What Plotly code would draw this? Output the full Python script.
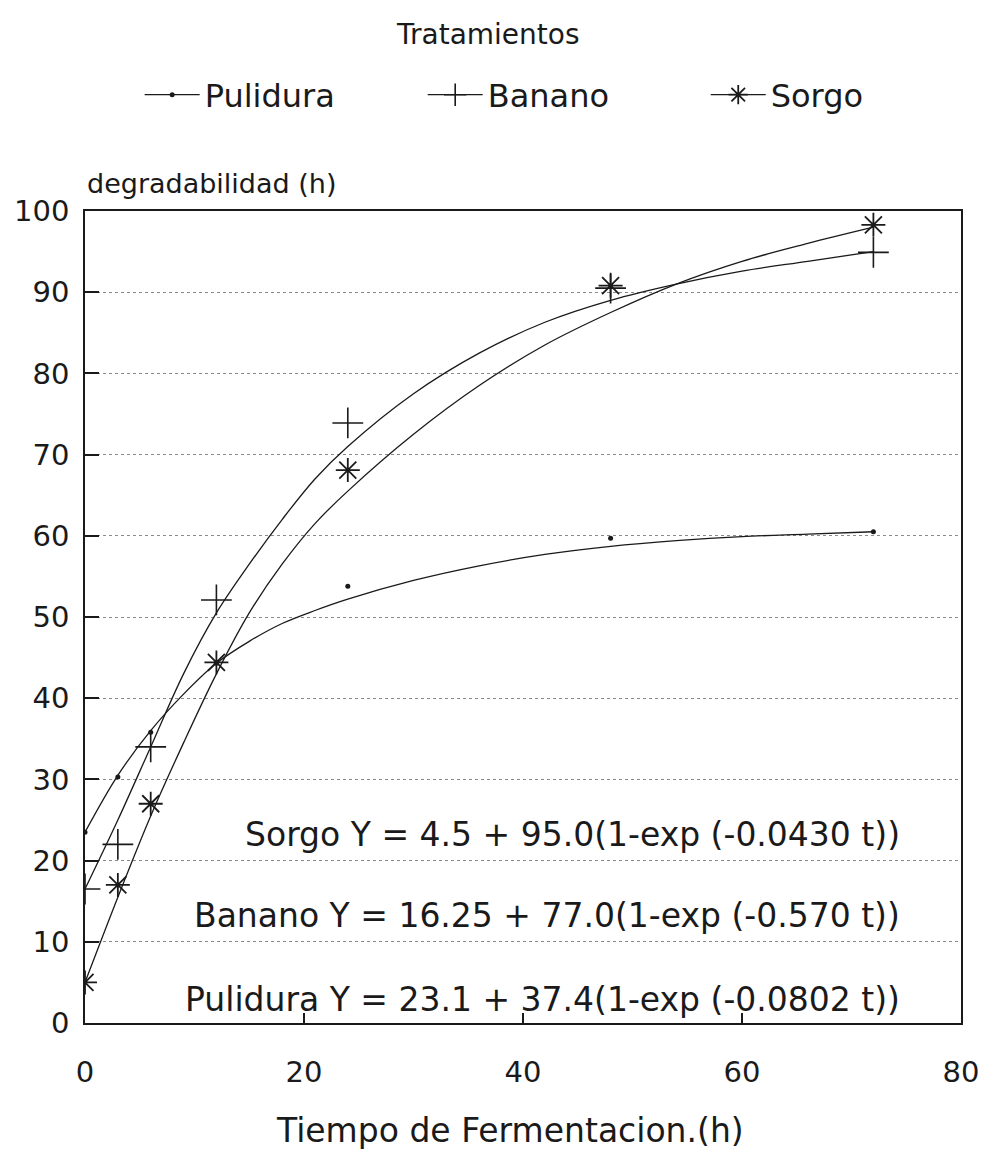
import plotly.graph_objects as go

# ---- data ----
t_obs = [0, 3, 6, 12, 24, 48, 72]
pulidura_obs = [23.5, 30.3, 35.8, 44.3, 53.8, 59.7, 60.5]
banano_obs = [16.5, 22.0, 34.0, 52.1, 73.9, 90.5, 94.9]
sorgo_obs = [5.0, 17.0, 27.0, 44.4, 68.1, 90.8, 98.3]

t_fit = [0, 3, 6, 9, 12, 15, 18, 21, 24, 30, 36, 42, 48, 54, 60, 66, 72]
pulidura_fit = [23.5, 30.5, 36.0, 40.5, 44.3, 47.0, 49.2, 50.8, 52.2, 54.5, 56.3, 57.7, 58.7, 59.4, 59.9, 60.2, 60.5]
banano_fit = [16.5, 25.0, 34.0, 43.0, 50.5, 56.5, 62.0, 67.0, 71.0, 77.5, 82.5, 86.3, 89.0, 91.0, 92.6, 93.8, 95.0]
sorgo_fit = [5.0, 15.5, 25.5, 34.5, 43.0, 50.5, 56.5, 61.5, 65.5, 72.5, 78.5, 83.5, 87.5, 91.0, 93.8, 96.0, 98.0]

series_names = ["Pulidura", "Banano", "Sorgo"]
legend_ids = ["legend", "legend2", "legend3"]
legend_x = [0.0624, 0.3855, 0.7086]
equations = [
    "Sorgo Y = 4.5 + 95.0(1-exp (-0.0430 t))",
    "Banano Y = 16.25 + 77.0(1-exp (-0.570 t))",
    "Pulidura Y = 23.1 + 37.4(1-exp (-0.0802 t))",
]
eq_y = [23.2, 13.2, 2.9]
x_ticks = [0, 20, 40, 60, 80]

FONT = "DejaVu Sans"
INK = "#1a1a1a"

markers = {
    "Pulidura": dict(symbol="circle", size=5, color=INK),
    "Banano": dict(symbol="cross-thin", size=22, line=dict(width=1.6, color=INK)),
    "Sorgo": dict(symbol="asterisk", size=20, line=dict(width=1.8, color=INK)),
}
obs = {"Pulidura": pulidura_obs, "Banano": banano_obs, "Sorgo": sorgo_obs}
fit = {"Pulidura": pulidura_fit, "Banano": banano_fit, "Sorgo": sorgo_fit}

fig = go.Figure()
for name, lid in zip(series_names, legend_ids):
    fig.add_trace(go.Scatter(
        x=t_fit, y=fit[name], mode="lines",
        line=dict(color=INK, width=1.3, shape="spline", smoothing=1.0),
        showlegend=False, hoverinfo="skip"))
    fig.add_trace(go.Scatter(
        x=t_obs, y=obs[name], mode="markers",
        marker=markers[name], showlegend=False))
    # legend-only entry
    fig.add_trace(go.Scatter(
        x=[None], y=[None], mode="lines+markers", name=name, legend=lid,
        line=dict(color=INK, width=1.3), marker=markers[name]))

for txt, yv in zip(equations, eq_y):
    fig.add_annotation(x=74.6, y=yv, xref="x", yref="y", text=txt,
                       showarrow=False, xanchor="right", yanchor="middle",
                       font=dict(family=FONT, size=33, color=INK))

fig.add_annotation(x=0, y=1.034, xref="paper", yref="paper",
                   text="degradabilidad (h)", showarrow=False,
                   xanchor="left", yanchor="middle",
                   font=dict(family=FONT, size=27, color=INK))
fig.add_annotation(x=0.485, y=-0.132, xref="paper", yref="paper",
                   text="Tiempo de Fermentacion.(h)", showarrow=False,
                   xanchor="center", yanchor="middle",
                   font=dict(family=FONT, size=33, color=INK))
fig.add_annotation(x=0.46, y=1.217, xref="paper", yref="paper",
                   text="Tratamientos", showarrow=False,
                   xanchor="center", yanchor="middle",
                   font=dict(family=FONT, size=28, color=INK))

legend_common = dict(orientation="h", xanchor="left", y=1.143, yanchor="middle",
                     itemwidth=55, font=dict(family=FONT, size=32, color=INK),
                     bgcolor="rgba(0,0,0,0)")
layout_legends = {lid: dict(legend_common, x=lx) for lid, lx in zip(legend_ids, legend_x)}

fig.update_layout(
    width=991, height=1149,
    margin=dict(l=85, r=24, t=211, b=126),
    paper_bgcolor="white", plot_bgcolor="white",
    font=dict(family=FONT, size=29, color=INK),
    xaxis=dict(range=[0, 80], tickvals=x_ticks, ticks="inside", ticklen=10,
               tickwidth=1.5, tickcolor=INK, showline=True, linecolor=INK,
               linewidth=1.5, mirror=True, showgrid=False, zeroline=False,
               ticklabelstandoff=22),
    yaxis=dict(range=[0, 100], dtick=10, ticks="inside", ticklen=14,
               tickwidth=1.5, tickcolor=INK, showline=True, linecolor=INK,
               linewidth=1.5, mirror=True, showgrid=True, gridcolor="#8a8a8a",
               griddash="dot", gridwidth=1, zeroline=False,
               ticklabelstandoff=8),
    **layout_legends,
)

fig.write_html("out.html")
